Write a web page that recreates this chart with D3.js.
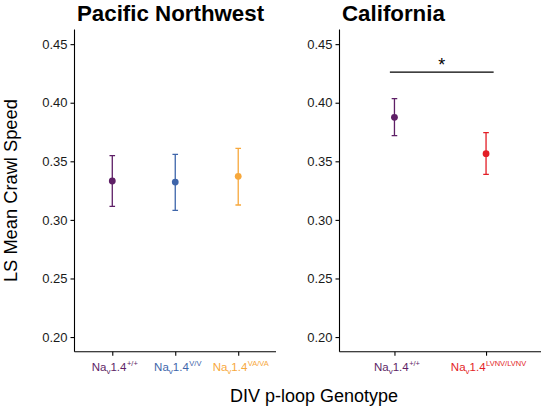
<!DOCTYPE html>
<html><head><meta charset="utf-8">
<script src="https://cdn.jsdelivr.net/npm/d3@7/dist/d3.min.js"></script>
<style>html,body{margin:0;padding:0;background:#fff;}svg{display:block;font-family:"Liberation Sans",Arial,Helvetica,sans-serif;}</style>
</head><body>
<svg id="chart" width="542" height="409"></svg>
<script>
// ---- data ----
const panelTitles = ["Pacific Northwest", "California"];
const pnwGenotypes = ["+/+", "V/V", "VA/VA"];
const pnwMeans = [0.3332, 0.3323, 0.3372];
const pnwLower = [0.3116, 0.3081, 0.3127];
const pnwUpper = [0.3548, 0.3559, 0.3611];
const pnwColors = ["#5e1f66", "#3e65aa", "#f7a83c"];
const caGenotypes = ["+/+", "LVNV/LVNV"];
const caMeans = [0.3875, 0.3565];
const caLower = [0.3719, 0.3389];
const caUpper = [0.4035, 0.3745];
const caColors = ["#5e1f66", "#e31e26"];
const yTicks = [0.20, 0.25, 0.30, 0.35, 0.40, 0.45];
const yDomain = [0.1875, 0.4625];
const sigLevel = 0.4262;
const sigLabel = "*";
const yTitle = "LS Mean Crawl Speed";
const xTitle = "DIV p-loop Genotype";

const svg = d3.select("#chart");
const plotTop = 29.5, plotBottom = 351.7;
const y = d3.scaleLinear().domain(yDomain).range([plotBottom, plotTop]);

function panel(left, right, title, cats, means, lo, hi, colors) {
  const g = svg.append("g");
  const x = d3.scalePoint().domain(cats).range([left, right]).padding(0.6);
  // y axis
  const ya = g.append("g").attr("transform", `translate(${left},0)`)
    .call(d3.axisLeft(y).tickValues(yTicks).tickFormat(d3.format(".2f")).tickSize(4).tickPadding(3));
  ya.select(".domain").attr("stroke", "#000").attr("stroke-width", 1.1).attr("d", `M0,${plotTop}V${plotBottom}`);
  ya.selectAll(".tick line").attr("stroke", "#000").attr("stroke-width", 1.1);
  ya.selectAll(".tick text").attr("fill", "#1a1a1a").style("font-size", "13px");
  // x axis
  const xa = g.append("g").attr("transform", `translate(0,${plotBottom})`)
    .call(d3.axisBottom(x).tickSize(4).tickFormat(""));
  xa.select(".domain").attr("stroke", "#000").attr("stroke-width", 1.1).attr("d", `M${left},0H${right}`);
  xa.selectAll(".tick line").attr("stroke", "#000").attr("stroke-width", 1.1);
  xa.selectAll(".tick").each(function(d, i) {
    const t = d3.select(this).append("text").attr("y", 19).attr("x", 2).attr("text-anchor", "middle")
      .attr("fill", colors[i]).style("font-size", "11.5px");
    t.append("tspan").text("Na");
    t.append("tspan").attr("dy", 3).style("font-size", "8px").text("v");
    t.append("tspan").attr("dy", -3).text("1.4");
    t.append("tspan").attr("dy", -5).attr("dx", 0.5).style("font-size", "7.5px").text(d);
  });
  // error bars
  const cap = 2.8;
  cats.forEach((c, i) => {
    const cx = x(c);
    g.append("path").attr("fill", "none").attr("stroke", colors[i]).attr("stroke-width", 1.3)
      .attr("d", `M${cx - cap},${y(hi[i])}H${cx + cap}M${cx},${y(hi[i])}V${y(lo[i])}M${cx - cap},${y(lo[i])}H${cx + cap}`);
    g.append("circle").attr("cx", cx).attr("cy", y(means[i])).attr("r", 3.4).attr("fill", colors[i]);
  });
  // title
  g.append("text").attr("x", left + 2.5).attr("y", 21).style("font-size", "22.3px").style("font-weight", "bold")
    .attr("fill", "#000").text(title);
  return x;
}

panel(74.5, 276, panelTitles[0], pnwGenotypes, pnwMeans, pnwLower, pnwUpper, pnwColors);
const xc = panel(339.5, 541, panelTitles[1], caGenotypes, caMeans, caLower, caUpper, caColors);

// significance bar
const step = xc.step();
const x1 = xc(caGenotypes[0]) - 0.05 * step, x2 = xc(caGenotypes[1]) + 0.083 * step;
svg.append("line").attr("x1", x1).attr("x2", x2).attr("y1", y(sigLevel)).attr("y2", y(sigLevel))
  .attr("stroke", "#000").attr("stroke-width", 1.3);
svg.append("text").attr("x", (x1 + x2) / 2).attr("y", y(sigLevel) - 1).attr("text-anchor", "middle")
  .style("font-size", "18px").attr("fill", "#000").text(sigLabel);

// axis titles
svg.append("text").attr("transform", `translate(17,${(plotTop + plotBottom) / 2}) rotate(-90)`)
  .attr("text-anchor", "middle").style("font-size", "18.3px").attr("fill", "#000").text(yTitle);
svg.append("text").attr("x", 314).attr("y", 402).attr("text-anchor", "middle")
  .style("font-size", "18px").attr("fill", "#000").text(xTitle);
</script>
</body></html>
